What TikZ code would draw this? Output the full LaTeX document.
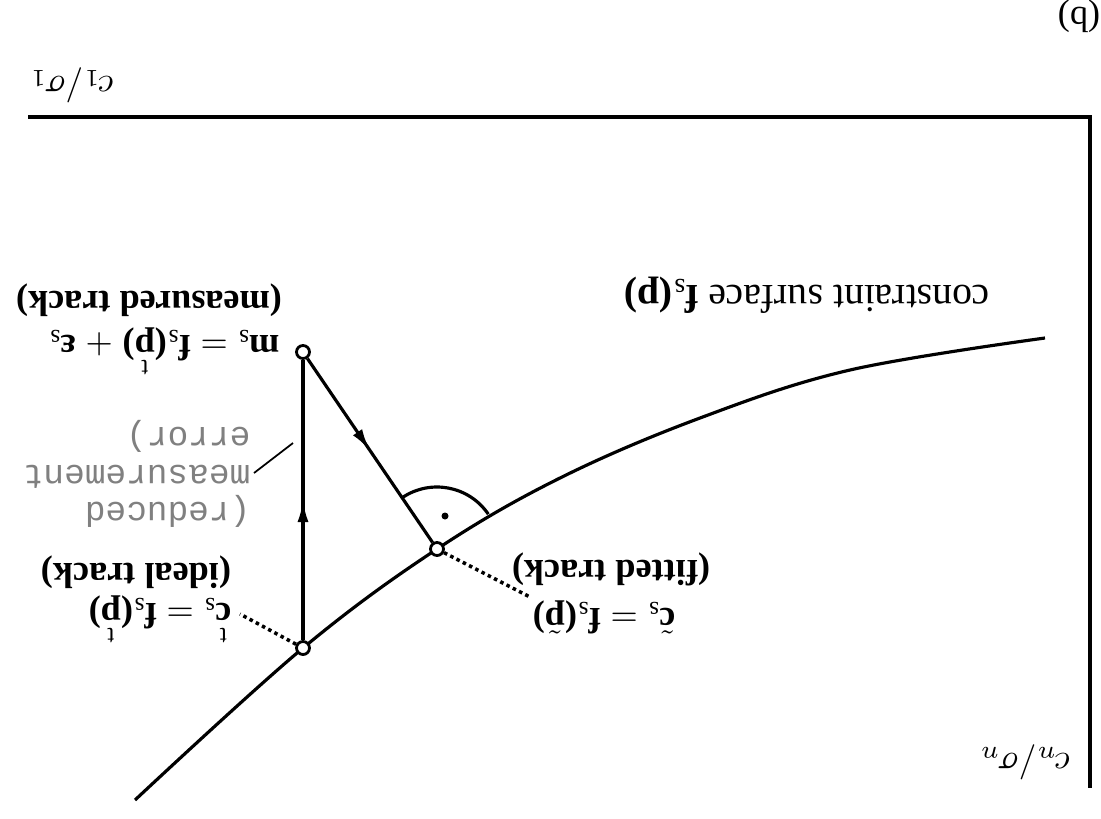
\documentclass[tikz,border=0pt]{standalone}
\usepackage{amsmath}
\usepackage{fontspec}
\setmainfont{Liberation Serif}
\setmonofont{Liberation Mono}
\usetikzlibrary{arrows.meta,decorations.markings,calc}
\newcommand{\sx}{_{\mathrm{s}}}
\newcommand{\bp}[1]{\textbf{(}#1\textbf{)}}
\newcommand{\tmark}[1]{\overset{\mathrm{t}}{#1}}
\begin{document}
\begin{tikzpicture}[x=0.01cm,y=-0.01cm,
  lbl/.style={rotate=180, inner sep=0pt, font=\fontsize{10.3}{12}\selectfont},
  bl/.style={rotate=180, inner sep=0pt, font=\fontsize{10.3}{12}\selectfont\bfseries},
  gr/.style={rotate=180, inner sep=0pt, text=black!50, align=left, font=\fontsize{9.8}{10.6}\selectfont\ttfamily},
  pt/.style={circle, draw, fill=white, line width=0.8pt, inner sep=0pt, minimum size=0.13cm},
  ln/.style={line width=0.9pt},
  frame/.style={line width=1.2pt},
  midarrow/.style={postaction={decorate}, decoration={markings, mark=at position 0.5 with {\arrow{Latex[length=0.22cm,width=0.11cm]}}}},
  leader/.style={densely dotted, line width=1pt},
]
\useasboundingbox (0,0) rectangle (1101,818);
% frame (axes)
\coordinate (fa) at (28,117);
\coordinate (fb) at (1090,117);
\coordinate (fc) at (1090,788);
\draw[frame] (fa) -- (fb) -- (fc);
% constraint surface
\draw[ln] plot[smooth, tension=0.6] coordinates {(135,800) (303,648) (437,549) (560,478) (700,418) (850,370) (1045,338)};
% points
\node[pt] (ideal) at (303,648) {};
\node[pt] (fit) at (437,549) {};
\node[pt] (meas) at (303,352) {};
% right angle
\draw[ln] (fit) ++(-124.2:62) arc[start angle=-124.2, end angle=-34.2, radius=62];
\fill (445,516) circle[radius=0.035cm];
% connectors
\draw[ln, midarrow] (ideal) -- (meas);
\draw[ln, midarrow] (meas) -- (fit);
% labels
\node[lbl] (b) at (1079,16) {(b)};
\node[lbl] (c1) at (72,85) {$c_1/\sigma_1$};
\node[lbl] (cn) at (1025,762) {$c_n/\sigma_n$};
\node[lbl, font=\fontsize{11.3}{13}\selectfont] (surf) at (807,295) {constraint surface $\mathbf{f}\sx$\bp{$\mathbf{p}$}};
\node[bl] (mtr) at (149,300) {(measured track)};
\node[lbl] (meq) at (164,353) {$\mathbf{m}\sx = \mathbf{f}\sx$\bp{$\tmark{\mathbf{p}}$}$\;+\;$\textbf{ε}$\sx$};
\node[bl] (itr) at (136,572) {(ideal track)};
\node[lbl] (ieq) at (160,621) {$\tmark{\mathbf{c}}\sx = \mathbf{f}\sx$\bp{$\tmark{\mathbf{p}}$}};
\node[bl] (ftr) at (611,569) {(fitted track)};
\node[lbl] (feq) at (604,617) {$\tilde{\mathbf{c}}\sx = \mathbf{f}\sx$\bp{$\tilde{\mathbf{p}}$}};
\node[gr, anchor=west] (red) at (251,474) {(reduced\\measurement\\error)};
% leader lines
\coordinate (il) at (240,614);
\coordinate (fl) at (530,597);
\draw[leader] (ideal) -- (il);
\draw[leader] (fit) -- (fl);
\coordinate (rl1) at (254,473);
\coordinate (rl2) at (293,443);
\draw[line width=0.5pt] (rl1) -- (rl2);
\end{tikzpicture}
\end{document}
